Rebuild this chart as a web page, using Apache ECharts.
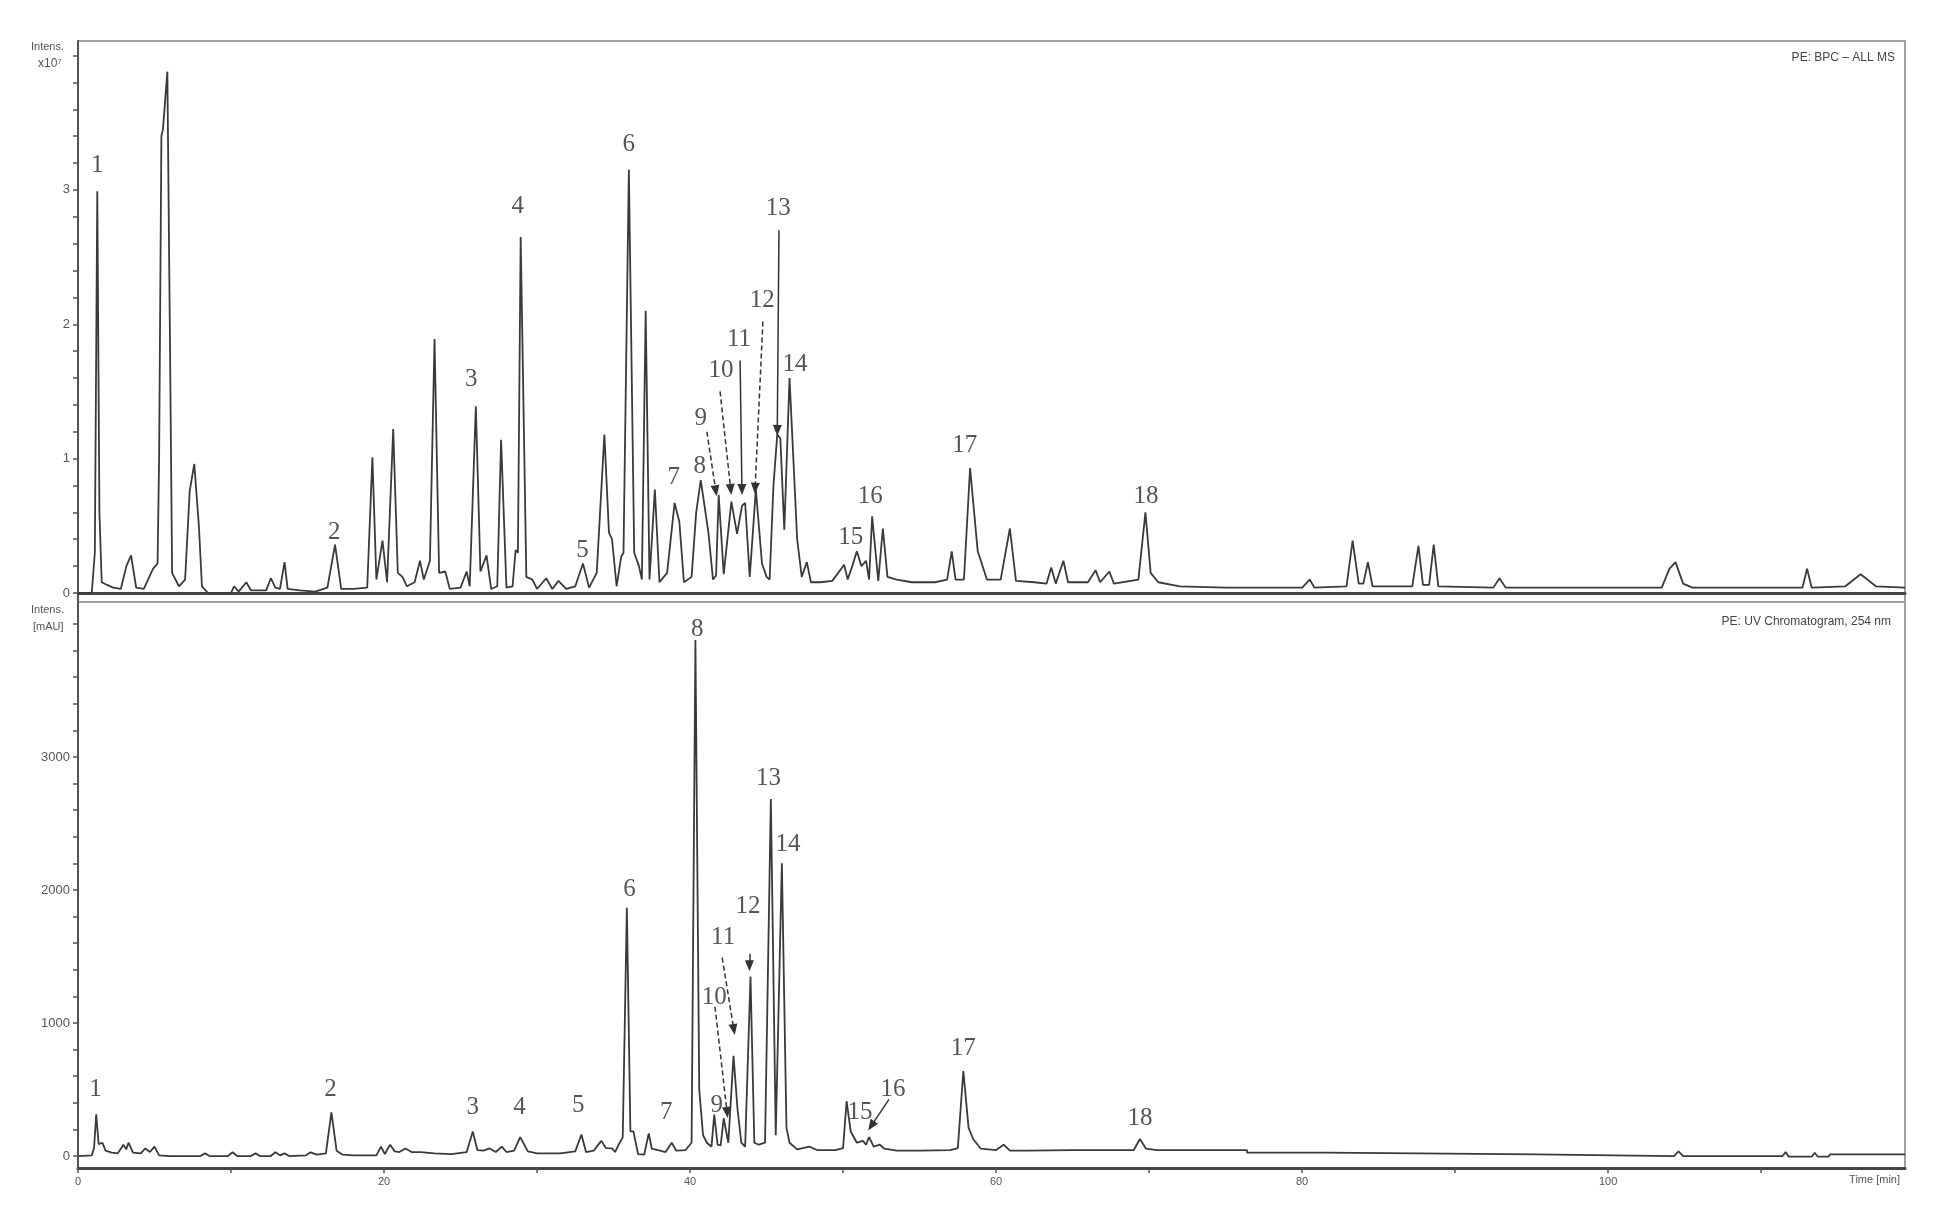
<!DOCTYPE html>
<html>
<head>
<meta charset="utf-8">
<title>BPC / UV chromatogram</title>
<script src="https://cdn.jsdelivr.net/npm/echarts@6.0.0/dist/echarts.min.js"></script>
<style>
  html, body { margin: 0; padding: 0; background: #fff; }
  #chart { width: 1938px; height: 1221px; }
</style>
</head>
<body>
<div id="chart"></div>
<script>
// BPC - ALL MS trace, [time (min), intensity x10^7]
const bpcTrace = [
  [0,0.0],[0.9,0.0],[1.1,0.3],[1.26,2.99],[1.4,0.6],[1.55,0.08],[1.9,0.06],[2.3,0.04],[2.8,0.03],
  [3.16,0.2],[3.47,0.28],[3.8,0.04],[4.3,0.03],[4.9,0.18],[5.2,0.22],[5.3,1.0],[5.45,3.4],[5.55,3.45],
  [5.84,3.88],[6.0,2.0],[6.15,0.15],[6.6,0.05],[7.0,0.1],[7.3,0.76],[7.6,0.96],[7.9,0.5],[8.1,0.05],
  [8.5,0.0],[10.0,0.0],[10.2,0.05],[10.5,0.01],[11.0,0.08],[11.3,0.02],[12.3,0.02],[12.6,0.11],
  [12.9,0.04],[13.2,0.03],[13.5,0.23],[13.7,0.03],[14.5,0.02],[15.5,0.01],[16.3,0.04],[16.8,0.36],
  [17.2,0.03],[18.0,0.03],[18.9,0.04],[19.24,1.01],[19.5,0.1],[19.9,0.39],[20.2,0.08],[20.6,1.22],
  [20.9,0.15],[21.2,0.12],[21.5,0.05],[22.0,0.08],[22.35,0.24],[22.6,0.1],[23.0,0.24],[23.3,1.89],
  [23.6,0.15],[24.0,0.16],[24.3,0.03],[25.0,0.04],[25.4,0.16],[25.6,0.05],[26.0,1.39],[26.3,0.16],
  [26.7,0.28],[27.0,0.03],[27.4,0.05],[27.65,1.14],[28.0,0.04],[28.4,0.05],[28.6,0.32],[28.75,0.3],
  [28.93,2.65],[29.3,0.12],[29.7,0.1],[30.0,0.03],[30.6,0.11],[31.0,0.03],[31.4,0.09],[31.9,0.03],
  [32.5,0.05],[33.0,0.22],[33.4,0.04],[33.9,0.15],[34.4,1.18],[34.7,0.45],[34.9,0.4],[35.2,0.05],
  [35.5,0.27],[35.65,0.3],[36.0,3.15],[36.35,0.3],[36.66,0.2],[36.85,0.1],[37.1,2.10],[37.35,0.1],
  [37.7,0.77],[38.0,0.08],[38.5,0.15],[38.99,0.67],[39.3,0.53],[39.6,0.08],[40.1,0.12],[40.4,0.6],
  [40.7,0.84],[41.2,0.45],[41.5,0.1],[41.7,0.13],[41.87,0.73],[42.2,0.14],[42.7,0.68],[43.07,0.44],
  [43.4,0.65],[43.6,0.67],[43.9,0.12],[44.3,0.77],[44.7,0.22],[45.0,0.12],[45.2,0.1],[45.45,0.8],
  [45.7,1.18],[45.9,1.15],[46.16,0.47],[46.5,1.6],[47.0,0.4],[47.3,0.12],[47.63,0.23],[47.9,0.08],
  [48.5,0.08],[49.3,0.09],[50.07,0.21],[50.3,0.1],[50.6,0.2],[50.9,0.31],[51.2,0.2],[51.5,0.24],
  [51.7,0.1],[51.9,0.57],[52.3,0.09],[52.6,0.48],[52.9,0.12],[53.5,0.1],[54.5,0.08],[56.0,0.08],
  [56.8,0.1],[57.1,0.31],[57.35,0.1],[57.9,0.1],[58.3,0.93],[58.8,0.31],[59.4,0.1],[60.3,0.1],
  [60.9,0.48],[61.3,0.09],[62.5,0.08],[63.3,0.07],[63.6,0.19],[63.9,0.07],[64.4,0.24],[64.7,0.08],
  [66.0,0.08],[66.5,0.17],[66.8,0.08],[67.4,0.16],[67.7,0.07],[69.3,0.1],[69.76,0.6],[70.1,0.15],
  [70.6,0.08],[72,0.05],[75,0.04],[80,0.04],[80.5,0.1],[80.8,0.04],[82.9,0.05],[83.3,0.39],[83.7,0.07],
  [84.0,0.07],[84.3,0.23],[84.6,0.05],[87.2,0.05],[87.6,0.35],[87.9,0.06],[88.3,0.06],[88.6,0.36],
  [88.9,0.05],[92.5,0.04],[92.9,0.11],[93.3,0.04],[103.5,0.04],[104.0,0.18],[104.4,0.23],[104.9,0.07],
  [105.5,0.04],[112.7,0.04],[113.0,0.18],[113.3,0.04],[115.5,0.05],[116.5,0.14],[117.5,0.05],[119.4,0.04]
];

// UV chromatogram 254 nm, [time (min), mAU]
const uvTrace = [
  [0,0],[0.9,5],[1.05,60],[1.19,313],[1.35,90],[1.6,100],[1.8,40],[2.2,25],[2.6,20],[2.97,85],
  [3.15,50],[3.3,100],[3.6,25],[4.1,20],[4.4,57],[4.7,30],[5.0,71],[5.3,5],[6,0],[8.0,0],[8.3,20],
  [8.6,0],[9.8,0],[10.1,28],[10.4,0],[11.3,0],[11.6,20],[11.9,0],[12.6,0],[12.9,28],[13.2,5],[13.5,20],
  [13.8,0],[14.9,5],[15.2,28],[15.6,10],[16.2,20],[16.56,328],[16.9,40],[17.3,10],[18.0,5],[19.5,5],
  [19.8,71],[20.05,15],[20.4,85],[20.7,35],[21.0,30],[21.4,57],[21.8,30],[22.4,30],[23.3,20],[24.4,15],
  [25.4,30],[25.8,185],[26.1,45],[26.5,40],[26.9,57],[27.3,30],[27.7,71],[28.0,30],[28.5,40],[28.9,142],
  [29.4,35],[30.0,20],[31.5,20],[32.5,35],[32.9,162],[33.2,30],[33.7,40],[34.2,114],[34.5,60],[34.9,57],
  [35.1,30],[35.4,100],[35.6,140],[35.87,1867],[36.1,185],[36.3,185],[36.6,15],[37.0,10],[37.3,170],
  [37.5,55],[37.9,45],[38.4,30],[38.8,100],[39.1,40],[39.7,45],[40.1,100],[40.35,3880],[40.6,500],
  [40.85,156],[41.1,100],[41.4,70],[41.58,312],[41.8,85],[42.0,80],[42.2,284],[42.5,100],[42.6,95],
  [42.84,753],[43.1,355],[43.35,100],[43.6,70],[43.95,1349],[44.2,100],[44.5,85],[44.9,100],[45.28,2684],
  [45.6,156],[46.0,2201],[46.3,213],[46.5,100],[47.0,50],[47.8,71],[48.3,45],[49.5,45],[50.0,60],
  [50.23,412],[50.5,184],[50.9,100],[51.3,114],[51.5,85],[51.7,142],[52.0,70],[52.4,85],[52.7,55],
  [53.5,40],[55.0,40],[57.0,45],[57.5,60],[57.86,639],[58.2,213],[58.5,128],[59.0,55],[60.0,45],
  [60.5,85],[60.9,40],[62,40],[65.0,45],[67.0,45],[69.0,45],[69.4,128],[69.8,55],[70.5,45],[76.4,45],
  [76.4,25],[81.6,25],[81.6,12],[95.3,12],[95.3,0],[104.3,0],[104.6,35],[104.9,0],[111.4,0],[111.6,30],
  [111.8,-5],[113.3,-5],[113.5,25],[113.7,-5],[114.4,-5],[114.5,12],[119.4,12]
];

// peak numbers: [time, value, label]
const bpcPeakLabels = [
  [1.26,3.18,'1'],[16.75,0.45,'2'],[25.7,1.59,'3'],[28.74,2.88,'4'],[32.97,0.32,'5'],[36.0,3.34,'6'],
  [38.93,0.86,'7'],[40.63,0.94,'8'],[40.7,1.30,'9'],[42.03,1.66,'10'],[43.2,1.89,'11'],[44.72,2.18,'12'],
  [45.77,2.86,'13'],[46.86,1.70,'14'],[50.5,0.41,'15'],[51.77,0.72,'16'],[57.95,1.10,'17'],[69.8,0.72,'18']
];
const uvPeakLabels = [
  [1.14,497,'1'],[16.5,497,'2'],[25.8,369,'3'],[28.86,369,'4'],[32.7,383,'5'],[36.05,2002,'6'],
  [38.44,327,'7'],[40.47,3960,'8'],[41.74,383,'9'],[41.58,1193,'10'],[42.16,1647,'11'],[43.79,1874,'12'],
  [45.12,2840,'13'],[46.4,2343,'14'],[51.1,327,'15'],[53.26,497,'16'],[57.86,809,'17'],[69.4,284,'18']
];

// arrows: [t1, v1, t2, v2, dashed?]
const bpcArrows = [
  [41.1,1.20,41.68,0.76,true],
  [41.96,1.50,42.66,0.77,true],
  [43.27,1.73,43.39,0.77,false],
  [44.76,2.02,44.25,0.78,true],
  [45.81,2.70,45.70,1.21,false]
];
const uvArrows = [
  [41.63,1122,42.42,327,true],
  [42.1,1491,42.86,951,true],
  [43.88,1520,43.88,1430,false],
  [53.0,426,51.84,227,false]
];

const bpcTicks = [];
for (let i = 0; i <= 20; i++) bpcTicks.push(+(i * 0.2).toFixed(1));
const bpcTickLabels = [0, 1, 2, 3];
const uvTicks = [];
for (let i = 0; i <= 20; i++) uvTicks.push(i * 200);
const uvTickLabels = [0, 1000, 2000, 3000];
const timeTicks = [0, 10, 20, 30, 40, 50, 60, 70, 80, 90, 100, 110];
const timeTickLabels = [0, 20, 40, 60, 80, 100];

let chart = echarts.init(document.getElementById('chart'));

const axisColor = '#555';
const traceColor = '#3a3a3a';
const labelFont = { fontFamily: 'Liberation Sans', fontSize: 12, color: '#555' };

function peakLabelSeries(list, idx) {
  return {
    type: 'scatter',
    xAxisIndex: idx, yAxisIndex: idx,
    symbolSize: 0,
    silent: true,
    data: list.map(p => ({ value: [p[0], p[1]], name: p[2] })),
    label: {
      show: true,
      position: 'inside',
      formatter: p => p.name,
      fontFamily: 'Liberation Serif',
      fontSize: 25,
      color: '#2a2a2a'
    }
  };
}

function arrowLines(list) {
  return {
    silent: true,
    animation: false,
    symbolSize: [9, 11],
    label: { show: false },
    emphasis: { disabled: true },
    data: list.map(a => [
      { coord: [a[0], a[1]], symbol: 'none' },
      { coord: [a[2], a[3]], symbol: 'triangle',
        lineStyle: { type: a[4] ? [5, 3] : 'solid', color: '#333', width: 1.5 } }
    ])
  };
}

option = {
  backgroundColor: '#fff',
  animation: false,
  grid: [
    { left: 78, right: 33, top: 41, height: 561, show: true, borderColor: '#a0a0a0', borderWidth: 2 },
    { left: 78, right: 33, top: 602, height: 566, show: true, borderColor: '#a0a0a0', borderWidth: 2 }
  ],
  xAxis: [
    {
      type: 'value', gridIndex: 0, min: 0, max: 119.4,
      axisLine: { show: true, lineStyle: { color: '#444', width: 3 } },
      axisTick: { show: false }, axisLabel: { show: false }, splitLine: { show: false }
    },
    {
      type: 'value', gridIndex: 1, min: 0, max: 119.4,
      axisLine: { show: true, onZero: false, lineStyle: { color: '#444', width: 3 } },
      axisTick: { show: true, customValues: timeTicks, length: 5, lineStyle: { color: axisColor, width: 1.5 } },
      axisLabel: { customValues: timeTickLabels, margin: 8, ...labelFont, fontSize: 11, formatter: v => String(v) },
      splitLine: { show: false }
    }
  ],
  yAxis: [
    {
      type: 'value', gridIndex: 0, min: -0.067, max: 4.108,
      axisLine: { show: true, onZero: false, lineStyle: { color: axisColor, width: 2 } },
      axisTick: { show: true, customValues: bpcTicks, length: 5, lineStyle: { color: axisColor, width: 1.5 } },
      axisLabel: { customValues: bpcTickLabels, margin: 8, ...labelFont, fontSize: 13, formatter: v => String(v) },
      splitLine: { show: false }
    },
    {
      type: 'value', gridIndex: 1, min: -90, max: 4165,
      axisLine: { show: true, onZero: false, lineStyle: { color: axisColor, width: 2 } },
      axisTick: { show: true, customValues: uvTicks, length: 5, lineStyle: { color: axisColor, width: 1.5 } },
      axisLabel: { customValues: uvTickLabels, margin: 8, ...labelFont, fontSize: 13, formatter: v => String(v) },
      splitLine: { show: false }
    }
  ],
  series: [
    {
      name: 'PE: BPC – ALL MS', type: 'line', xAxisIndex: 0, yAxisIndex: 0,
      data: bpcTrace, showSymbol: false, symbol: 'none', silent: true,
      lineStyle: { color: traceColor, width: 1.8 },
      markLine: arrowLines(bpcArrows)
    },
    {
      name: 'PE: UV Chromatogram, 254 nm', type: 'line', xAxisIndex: 1, yAxisIndex: 1,
      data: uvTrace, showSymbol: false, symbol: 'none', silent: true,
      lineStyle: { color: traceColor, width: 1.8 },
      markLine: arrowLines(uvArrows)
    },
    peakLabelSeries(bpcPeakLabels, 0),
    peakLabelSeries(uvPeakLabels, 1)
  ],
  graphic: [
    { type: 'text', right: 43, top: 52, style: { text: 'PE: BPC – ALL MS', fill: '#444', font: '12px "Liberation Sans"' } },
    { type: 'text', right: 47, top: 616, style: { text: 'PE: UV Chromatogram, 254 nm', fill: '#444', font: '12px "Liberation Sans"' } },
    { type: 'text', left: 31, top: 41, style: { text: 'Intens.', fill: '#555', font: '11px "Liberation Sans"' } },
    { type: 'text', left: 38, top: 58, style: { text: 'x10⁷', fill: '#555', font: '12px "Liberation Sans"' } },
    { type: 'text', left: 31, top: 604, style: { text: 'Intens.', fill: '#555', font: '11px "Liberation Sans"' } },
    { type: 'text', left: 33, top: 621, style: { text: '[mAU]', fill: '#555', font: '11px "Liberation Sans"' } },
    { type: 'text', right: 38, top: 1174, style: { text: 'Time [min]', fill: '#555', font: '11px "Liberation Sans"' } }
  ]
};

chart.setOption(option);

window.onresize = function() {
  chart.resize();
}
</script>
</body>
</html>
